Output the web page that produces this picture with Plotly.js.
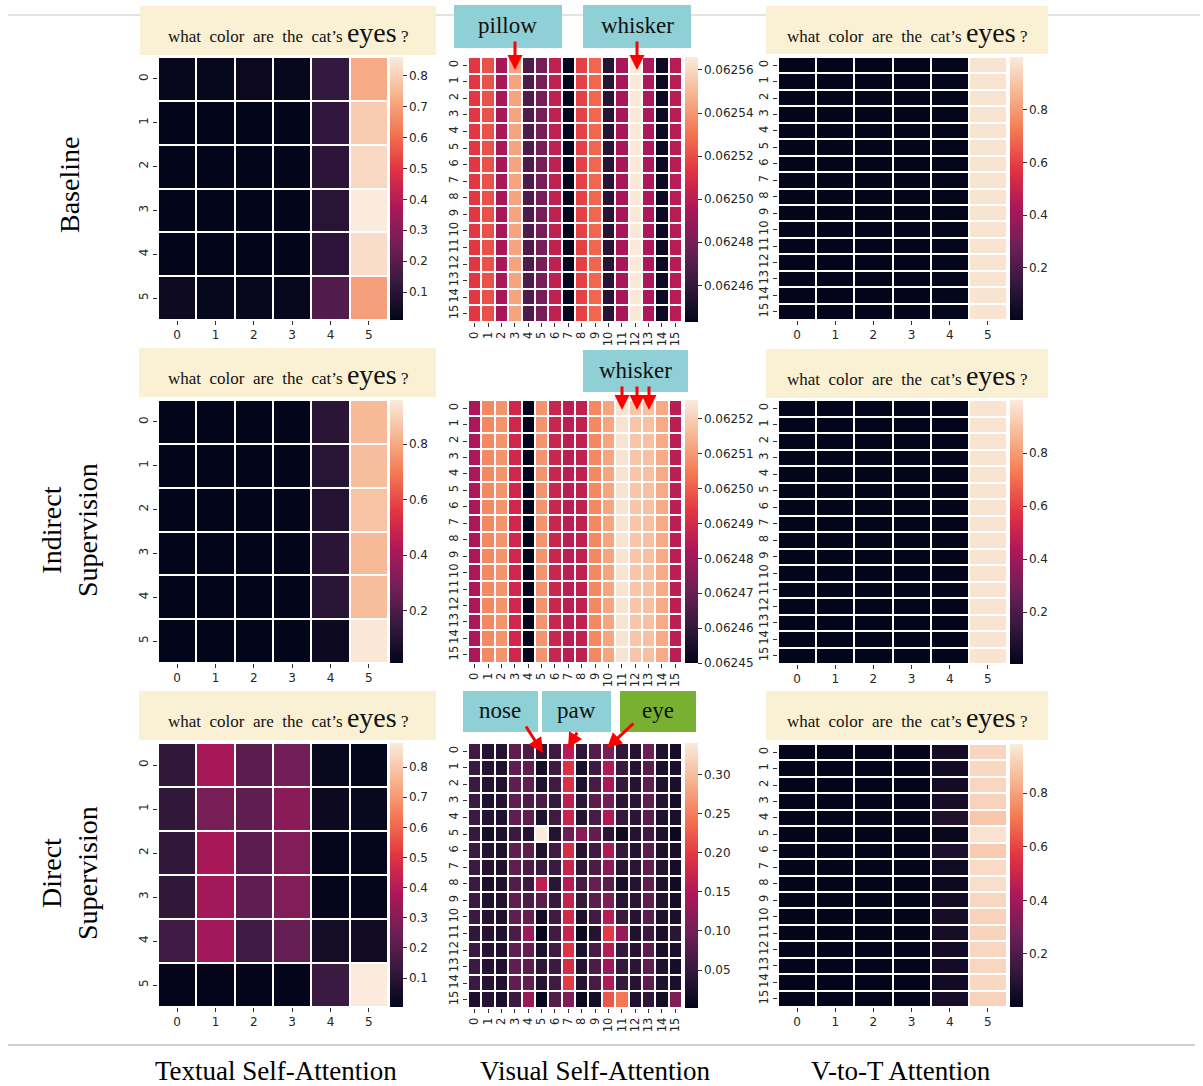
<!DOCTYPE html>
<html>
<head>
<meta charset="utf-8">
<script src="https://cdn.plot.ly/plotly-3.0.1.min.js"></script>
<style>html,body{margin:0;padding:0;background:#fff;}#chart{width:1203px;height:1086px;}</style>
</head>
<body>
<div id="chart"></div>
<script>
// ---------------- DATA ----------------
const textTokens = ['0','1','2','3','4','5'];
const patchTokens = ['0','1','2','3','4','5','6','7','8','9','10','11','12','13','14','15'];
const rowLabels = ['Baseline', 'Indirect<br>Supervision', 'Direct<br>Supervision'];
const colLabels = ['Textual Self-Attention', 'Visual Self-Attention', 'V-to-T Attention'];
const questionWords = ['what', 'color', 'are', 'the', 'cat\u2019s'];
const questionKey = 'eyes';

// Baseline
const textBaseline = [
  [0.02,0.02,0.03,0.02,0.13,0.72],
  [0.01,0.01,0.01,0.01,0.12,0.79],
  [0.01,0.01,0.01,0.01,0.11,0.82],
  [0.01,0.01,0.01,0.01,0.10,0.86],
  [0.01,0.01,0.01,0.01,0.11,0.83],
  [0.04,0.02,0.02,0.02,0.19,0.70]
];
const visBaseline = [
  [0.062514,0.062521,0.062495,0.062544,0.062468,0.062480,0.062502,0.062444,0.062517,0.062527,0.062456,0.062495,0.062565,0.062496,0.062447,0.062499],
  [0.062514,0.062521,0.062495,0.062544,0.062468,0.062480,0.062502,0.062444,0.062517,0.062527,0.062456,0.062495,0.062565,0.062496,0.062447,0.062499],
  [0.062514,0.062521,0.062495,0.062544,0.062468,0.062480,0.062502,0.062444,0.062517,0.062527,0.062456,0.062495,0.062565,0.062496,0.062447,0.062499],
  [0.062514,0.062521,0.062495,0.062544,0.062468,0.062480,0.062502,0.062444,0.062517,0.062527,0.062456,0.062495,0.062565,0.062496,0.062447,0.062499],
  [0.062514,0.062521,0.062495,0.062544,0.062468,0.062480,0.062502,0.062444,0.062517,0.062527,0.062456,0.062495,0.062565,0.062496,0.062447,0.062499],
  [0.062514,0.062521,0.062495,0.062544,0.062468,0.062480,0.062502,0.062444,0.062517,0.062527,0.062456,0.062495,0.062565,0.062496,0.062447,0.062499],
  [0.062514,0.062521,0.062495,0.062544,0.062468,0.062480,0.062502,0.062444,0.062517,0.062527,0.062456,0.062495,0.062565,0.062496,0.062447,0.062499],
  [0.062514,0.062521,0.062495,0.062544,0.062468,0.062480,0.062502,0.062444,0.062517,0.062527,0.062456,0.062495,0.062565,0.062496,0.062447,0.062499],
  [0.062514,0.062521,0.062495,0.062544,0.062468,0.062480,0.062502,0.062444,0.062517,0.062527,0.062456,0.062495,0.062565,0.062496,0.062447,0.062499],
  [0.062514,0.062521,0.062495,0.062544,0.062468,0.062480,0.062502,0.062444,0.062517,0.062527,0.062456,0.062495,0.062565,0.062496,0.062447,0.062499],
  [0.062514,0.062521,0.062495,0.062544,0.062468,0.062480,0.062502,0.062444,0.062517,0.062527,0.062456,0.062495,0.062565,0.062496,0.062447,0.062499],
  [0.062514,0.062521,0.062495,0.062544,0.062468,0.062480,0.062502,0.062444,0.062517,0.062527,0.062456,0.062495,0.062565,0.062496,0.062447,0.062499],
  [0.062514,0.062521,0.062495,0.062544,0.062468,0.062480,0.062502,0.062444,0.062517,0.062527,0.062456,0.062495,0.062565,0.062496,0.062447,0.062499],
  [0.062514,0.062521,0.062495,0.062544,0.062468,0.062480,0.062502,0.062444,0.062517,0.062527,0.062456,0.062495,0.062565,0.062496,0.062447,0.062499],
  [0.062514,0.062521,0.062495,0.062544,0.062468,0.062480,0.062502,0.062444,0.062517,0.062527,0.062456,0.062495,0.062565,0.062496,0.062447,0.062499],
  [0.062514,0.062521,0.062495,0.062544,0.062468,0.062480,0.062502,0.062444,0.062517,0.062527,0.062456,0.062495,0.062565,0.062496,0.062447,0.062499]
];
const v2tBaseline = [
  [0.004,0.004,0.004,0.004,0.006,0.978],[0.004,0.004,0.004,0.004,0.006,0.978],
  [0.004,0.004,0.004,0.004,0.006,0.978],[0.004,0.004,0.004,0.004,0.006,0.978],
  [0.004,0.004,0.004,0.004,0.006,0.978],[0.004,0.004,0.004,0.004,0.006,0.978],
  [0.004,0.004,0.004,0.004,0.006,0.978],[0.004,0.004,0.004,0.004,0.006,0.978],
  [0.004,0.004,0.004,0.004,0.006,0.978],[0.004,0.004,0.004,0.004,0.006,0.978],
  [0.004,0.004,0.004,0.004,0.006,0.978],[0.004,0.004,0.004,0.004,0.006,0.978],
  [0.004,0.004,0.004,0.004,0.006,0.978],[0.004,0.004,0.004,0.004,0.006,0.978],
  [0.004,0.004,0.004,0.004,0.006,0.978],[0.004,0.004,0.004,0.004,0.006,0.978]
];

// Indirect supervision
const textIndirect = [
  [0.01,0.01,0.01,0.01,0.12,0.84],
  [0.01,0.01,0.01,0.01,0.11,0.85],
  [0.01,0.01,0.01,0.01,0.10,0.86],
  [0.01,0.01,0.01,0.01,0.12,0.84],
  [0.01,0.01,0.01,0.01,0.11,0.85],
  [0.01,0.01,0.01,0.01,0.04,0.95]
];
const visIndirect = [
  [0.062482,0.062507,0.062509,0.062489,0.062450,0.062509,0.062488,0.062485,0.062486,0.062507,0.062512,0.062524,0.062518,0.062517,0.062513,0.062485],
  [0.062482,0.062507,0.062509,0.062489,0.062450,0.062509,0.062488,0.062485,0.062486,0.062507,0.062512,0.062524,0.062518,0.062517,0.062513,0.062485],
  [0.062482,0.062507,0.062509,0.062489,0.062450,0.062509,0.062488,0.062485,0.062486,0.062507,0.062512,0.062524,0.062518,0.062517,0.062513,0.062485],
  [0.062482,0.062507,0.062509,0.062489,0.062450,0.062509,0.062488,0.062485,0.062486,0.062507,0.062512,0.062524,0.062518,0.062517,0.062513,0.062485],
  [0.062482,0.062507,0.062509,0.062489,0.062450,0.062509,0.062488,0.062485,0.062486,0.062507,0.062512,0.062524,0.062518,0.062517,0.062513,0.062485],
  [0.062482,0.062507,0.062509,0.062489,0.062450,0.062509,0.062488,0.062485,0.062486,0.062507,0.062512,0.062524,0.062518,0.062517,0.062513,0.062485],
  [0.062482,0.062507,0.062509,0.062489,0.062450,0.062509,0.062488,0.062485,0.062486,0.062507,0.062512,0.062524,0.062518,0.062517,0.062513,0.062485],
  [0.062482,0.062507,0.062509,0.062489,0.062450,0.062509,0.062488,0.062485,0.062486,0.062507,0.062512,0.062524,0.062518,0.062517,0.062513,0.062485],
  [0.062482,0.062507,0.062509,0.062489,0.062450,0.062509,0.062488,0.062485,0.062486,0.062507,0.062512,0.062524,0.062518,0.062517,0.062513,0.062485],
  [0.062482,0.062507,0.062509,0.062489,0.062450,0.062509,0.062488,0.062485,0.062486,0.062507,0.062512,0.062524,0.062518,0.062517,0.062513,0.062485],
  [0.062482,0.062507,0.062509,0.062489,0.062450,0.062509,0.062488,0.062485,0.062486,0.062507,0.062512,0.062524,0.062518,0.062517,0.062513,0.062485],
  [0.062482,0.062507,0.062509,0.062489,0.062450,0.062509,0.062488,0.062485,0.062486,0.062507,0.062512,0.062524,0.062518,0.062517,0.062513,0.062485],
  [0.062482,0.062507,0.062509,0.062489,0.062450,0.062509,0.062488,0.062485,0.062486,0.062507,0.062512,0.062524,0.062518,0.062517,0.062513,0.062485],
  [0.062482,0.062507,0.062509,0.062489,0.062450,0.062509,0.062488,0.062485,0.062486,0.062507,0.062512,0.062524,0.062518,0.062517,0.062513,0.062485],
  [0.062482,0.062507,0.062509,0.062489,0.062450,0.062509,0.062488,0.062485,0.062486,0.062507,0.062512,0.062524,0.062518,0.062517,0.062513,0.062485],
  [0.062482,0.062507,0.062509,0.062489,0.062450,0.062509,0.062488,0.062485,0.062486,0.062507,0.062512,0.062524,0.062518,0.062517,0.062513,0.062485]
];
const v2tIndirect = [
  [0.004,0.004,0.004,0.004,0.006,0.978],[0.004,0.004,0.004,0.004,0.006,0.978],
  [0.004,0.004,0.004,0.004,0.006,0.978],[0.004,0.004,0.004,0.004,0.006,0.978],
  [0.004,0.004,0.004,0.004,0.006,0.978],[0.004,0.004,0.004,0.004,0.006,0.978],
  [0.004,0.004,0.004,0.004,0.006,0.978],[0.004,0.004,0.004,0.004,0.006,0.978],
  [0.004,0.004,0.004,0.004,0.006,0.978],[0.004,0.004,0.004,0.004,0.006,0.978],
  [0.004,0.004,0.004,0.004,0.006,0.978],[0.004,0.004,0.004,0.004,0.006,0.978],
  [0.004,0.004,0.004,0.004,0.006,0.978],[0.004,0.004,0.004,0.004,0.006,0.978],
  [0.004,0.004,0.004,0.004,0.006,0.978],[0.004,0.004,0.004,0.004,0.006,0.978]
];

// Direct supervision
const textDirect = [
  [0.12,0.37,0.21,0.26,0.02,0.01],
  [0.12,0.27,0.22,0.31,0.03,0.02],
  [0.12,0.37,0.21,0.29,0.01,0.01],
  [0.12,0.36,0.22,0.29,0.01,0.01],
  [0.15,0.36,0.15,0.23,0.05,0.04],
  [0.006,0.006,0.006,0.006,0.14,0.88]
];
const visDirect = [
  [0.06,0.035,0.035,0.085,0.07,0.045,0.06,0.155,0.045,0.075,0.105,0.045,0.035,0.095,0.03,0.02],
  [0.055,0.035,0.03,0.085,0.085,0.02,0.06,0.19,0.025,0.06,0.15,0.055,0.035,0.08,0.025,0.025],
  [0.055,0.035,0.03,0.085,0.085,0.03,0.06,0.19,0.03,0.065,0.145,0.05,0.035,0.085,0.03,0.025],
  [0.055,0.03,0.035,0.085,0.07,0.07,0.05,0.16,0.045,0.08,0.1,0.04,0.04,0.085,0.035,0.02],
  [0.055,0.035,0.03,0.085,0.085,0.03,0.06,0.17,0.035,0.065,0.15,0.05,0.04,0.08,0.03,0.025],
  [0.05,0.02,0.03,0.055,0.035,0.34,0.035,0.095,0.12,0.085,0.04,0.015,0.035,0.06,0.03,0.01],
  [0.055,0.035,0.03,0.085,0.085,0.03,0.06,0.185,0.035,0.06,0.15,0.05,0.035,0.08,0.03,0.025],
  [0.055,0.035,0.03,0.085,0.07,0.055,0.055,0.17,0.045,0.07,0.12,0.04,0.04,0.085,0.035,0.02],
  [0.055,0.025,0.03,0.075,0.055,0.16,0.04,0.155,0.065,0.09,0.08,0.025,0.035,0.085,0.03,0.015],
  [0.055,0.03,0.035,0.085,0.07,0.08,0.05,0.165,0.05,0.08,0.11,0.04,0.04,0.085,0.035,0.02],
  [0.055,0.035,0.03,0.085,0.09,0.02,0.06,0.18,0.03,0.06,0.155,0.055,0.035,0.08,0.03,0.025],
  [0.045,0.035,0.03,0.07,0.135,0.005,0.06,0.17,0.01,0.035,0.2,0.13,0.03,0.055,0.025,0.04],
  [0.055,0.035,0.03,0.085,0.09,0.03,0.06,0.195,0.03,0.065,0.155,0.05,0.035,0.08,0.025,0.025],
  [0.055,0.035,0.03,0.085,0.08,0.045,0.055,0.185,0.035,0.07,0.135,0.05,0.04,0.085,0.03,0.02],
  [0.055,0.035,0.03,0.085,0.085,0.035,0.06,0.2,0.035,0.065,0.15,0.05,0.035,0.08,0.03,0.025],
  [0.025,0.035,0.025,0.055,0.13,0.005,0.075,0.11,0.01,0.02,0.22,0.245,0.03,0.045,0.02,0.11]
];
const v2tDirect = [
  [0.004,0.004,0.004,0.004,0.05,0.93],
  [0.004,0.004,0.004,0.004,0.045,0.935],
  [0.004,0.004,0.004,0.004,0.05,0.93],
  [0.004,0.004,0.004,0.004,0.06,0.92],
  [0.004,0.004,0.004,0.004,0.085,0.89],
  [0.004,0.004,0.004,0.004,0.02,0.96],
  [0.004,0.004,0.004,0.004,0.075,0.90],
  [0.004,0.004,0.004,0.004,0.04,0.94],
  [0.004,0.004,0.004,0.004,0.03,0.95],
  [0.004,0.004,0.004,0.004,0.05,0.93],
  [0.004,0.004,0.004,0.004,0.06,0.92],
  [0.004,0.004,0.004,0.004,0.055,0.925],
  [0.004,0.004,0.004,0.004,0.05,0.93],
  [0.004,0.004,0.004,0.004,0.05,0.93],
  [0.004,0.004,0.004,0.004,0.045,0.935],
  [0.004,0.004,0.004,0.004,0.06,0.92]
];

// colorbar tick labels
const cbTicksText8 = [0.1,0.2,0.3,0.4,0.5,0.6,0.7,0.8];
const cbTicksText4 = [0.2,0.4,0.6,0.8];
const cbTicksVisBase = [0.06246,0.06248,0.06250,0.06252,0.06254,0.06256];
const cbTextVisBase = ['0.06246','0.06248','0.06250','0.06252','0.06254','0.06256'];
const cbTicksVisInd = [0.06245,0.06246,0.06247,0.06248,0.06249,0.06250,0.06251,0.06252];
const cbTextVisInd = ['0.06245','0.06246','0.06247','0.06248','0.06249','0.06250','0.06251','0.06252'];
const cbTicksVisDir = [0.05,0.10,0.15,0.20,0.25,0.30];
const cbTextVisDir = ['0.05','0.10','0.15','0.20','0.25','0.30'];

// ---------------- STYLE / LAYOUT ----------------
const W = 1203, H = 1086;
const fx = p => p / W;
const fy = p => 1 - p / H;
const rocket = [[0,'#03051a'],[0.143,'#35193e'],[0.286,'#701f57'],[0.429,'#ad1759'],
                [0.571,'#e13342'],[0.714,'#f37651'],[0.857,'#f6b48f'],[1,'#faebdd']];
const tickFont = {family:'DejaVu Sans, sans-serif', size:12, color:'#262626'};
const tickFontSmall = {family:'DejaVu Sans, sans-serif', size:11.5, color:'#262626'};
const serif = 'Liberation Serif, Times New Roman, serif';

const panels = [
  {z:textBaseline, x:[158,388], y:[57,320], cb:390, zr:[0.01,0.86], tv:cbTicksText8, mid:false},
  {z:visBaseline,  x:[468,682], y:[57,322], cb:685, zr:[0.062443,0.062566], tv:cbTicksVisBase, tt:cbTextVisBase, mid:true},
  {z:v2tBaseline,  x:[778,1007], y:[57,320], cb:1010, zr:[0.002,1.0], tv:cbTicksText4, mid:false},
  {z:textIndirect, x:[158,388], y:[400,663], cb:390, zr:[0.01,0.96], tv:cbTicksText4, mid:false},
  {z:visIndirect,  x:[468,682], y:[400,663], cb:685, zr:[0.06245,0.0625254], tv:cbTicksVisInd, tt:cbTextVisInd, mid:true},
  {z:v2tIndirect,  x:[778,1007], y:[400,664], cb:1010, zr:[0.004,1.0], tv:cbTicksText4, mid:false},
  {z:textDirect,   x:[158,388], y:[743,1007], cb:390, zr:[0.004,0.88], tv:cbTicksText8, mid:false},
  {z:visDirect,    x:[468,682], y:[743,1008], cb:685, zr:[0.0015,0.34], tv:cbTicksVisDir, tt:cbTextVisDir, mid:true},
  {z:v2tDirect,    x:[778,1007], y:[744,1007], cb:1010, zr:[0.002,0.983], tv:cbTicksText4, mid:false}
];

const data = [];
const layout = {
  width:W, height:H, margin:{l:0,r:0,t:0,b:0},
  paper_bgcolor:'#ffffff', plot_bgcolor:'#ffffff', showlegend:false,
  shapes:[], annotations:[]
};

panels.forEach((p, i) => {
  const n = i + 1;
  const xs = p.z[0].length === 16 ? patchTokens : textTokens;
  const ys = p.z.length === 16 ? patchTokens : textTokens;
  const xk = n === 1 ? 'xaxis' : 'xaxis' + n;
  const yk = n === 1 ? 'yaxis' : 'yaxis' + n;
  const xr = n === 1 ? 'x' : 'x' + n;
  const yr = n === 1 ? 'y' : 'y' + n;
  data.push({
    type:'heatmap', z:p.z, x:xs.map(Number), y:ys.map(Number), xaxis:xr, yaxis:yr,
    colorscale:rocket, zmin:p.zr[0], zmax:p.zr[1], xgap:2, ygap:2,
    hoverinfo:'skip',
    colorbar:{
      x:fx(p.cb), xanchor:'left', xref:'paper', y:fy(p.y[0]), yanchor:'top', yref:'paper',
      len:(p.y[1]-p.y[0])/H, lenmode:'fraction', thickness:13, thicknessmode:'pixels',
      xpad:0, ypad:0, outlinewidth:0, ticks:'outside', ticklen:4, tickwidth:1, tickcolor:'#333',
      tickfont:tickFont, tickvals:p.tv, ticktext:p.tt ? p.tt : p.tv.map(v => String(v))
    }
  });
  layout[xk] = {
    domain:[fx(p.x[0]), fx(p.x[1])], anchor:yr, range:[-0.5, xs.length-0.5],
    tickvals:xs.map(Number), ticktext:xs, ticks:'outside', ticklen:4, tickwidth:1, tickcolor:'#333',
    showgrid:false, zeroline:false, showline:false, tickfont: xs.length === 16 ? tickFontSmall : tickFont,
    tickangle: p.mid ? -90 : 0, fixedrange:true
  };
  layout[yk] = {
    domain:[fy(p.y[1]), fy(p.y[0])], anchor:xr, range:[ys.length-0.5, -0.5],
    tickvals:ys.map(Number), ticktext:ys, ticks:'outside', ticklen:4, tickwidth:1, tickcolor:'#333',
    showgrid:false, zeroline:false, showline:false, tickfont: ys.length === 16 ? tickFontSmall : tickFont,
    tickangle:-90, fixedrange:true
  };
});

// horizontal rules
layout.shapes.push({type:'line', xref:'paper', yref:'paper', x0:fx(8), x1:fx(1200), y0:fy(15), y1:fy(15), line:{color:'#c8c8c8', width:1}, layer:'below'});
layout.shapes.push({type:'line', xref:'paper', yref:'paper', x0:fx(8), x1:fx(1195), y0:fy(1045), y1:fy(1045), line:{color:'#c0c0c0', width:1.5}, layer:'below'});

// question boxes
const qBoxes = [
  {x:[140,436], y:[6,55]}, {x:[766,1048], y:[6,54]},
  {x:[139,436], y:[348,397]}, {x:[766,1048], y:[349,398]},
  {x:[139,436], y:[691,740]}, {x:[766,1048], y:[691,740]}
];
const gap = '\u00a0\u00a0';
const qText = questionWords.join(gap) + '\u00a0<span style="font-size:28px">' + questionKey + '</span>\u00a0?';
qBoxes.forEach(b => {
  layout.shapes.push({type:'rect', xref:'paper', yref:'paper', x0:fx(b.x[0]), x1:fx(b.x[1]), y0:fy(b.y[1]), y1:fy(b.y[0]),
    fillcolor:'#faf0d4', line:{width:0}, layer:'above'});
  layout.annotations.push({xref:'paper', yref:'paper', x:fx((b.x[0]+b.x[1])/2), y:fy((b.y[0]+b.y[1])/2 + 2),
    xanchor:'center', yanchor:'middle', showarrow:false, text:qText, font:{family:serif, size:17, color:'#111'}});
});

// keyword boxes
const kBoxes = [
  {x:[454,562], y:[5,48], t:'pillow', c:'#8fcfd6'},
  {x:[583,691], y:[5,48], t:'whisker', c:'#8fcfd6'},
  {x:[583,688], y:[350,392], t:'whisker', c:'#8fcfd6'},
  {x:[463,538], y:[691,732], t:'nose', c:'#8fcfd6'},
  {x:[542,611], y:[691,732], t:'paw', c:'#8fcfd6'},
  {x:[620,696], y:[691,732], t:'eye', c:'#78b132'}
];
kBoxes.forEach(b => {
  layout.shapes.push({type:'rect', xref:'paper', yref:'paper', x0:fx(b.x[0]), x1:fx(b.x[1]), y0:fy(b.y[1]), y1:fy(b.y[0]),
    fillcolor:b.c, line:{width:0}, layer:'above'});
  layout.annotations.push({xref:'paper', yref:'paper', x:fx((b.x[0]+b.x[1])/2), y:fy((b.y[0]+b.y[1])/2 - 1),
    xanchor:'center', yanchor:'middle', showarrow:false, text:b.t, font:{family:serif, size:23, color:'#111'}});
});

// arrows (tip position, tail offset in px)
const arrows = [
  {x:515, y:70, ax:0, ay:-30}, {x:637, y:70, ax:0, ay:-30},
  {x:622, y:410, ax:0, ay:-25}, {x:637, y:410, ax:0, ay:-25}, {x:649, y:410, ax:0, ay:-25},
  {x:543, y:753, ax:-18, ay:-28}, {x:568, y:748, ax:10, ay:-17}, {x:607, y:748, ax:28, ay:-26}
];
arrows.forEach(a => {
  layout.annotations.push({xref:'paper', yref:'paper', x:fx(a.x), y:fy(a.y), ax:a.ax, ay:a.ay, text:'',
    showarrow:true, arrowhead:2, arrowsize:1, arrowwidth:3, arrowcolor:'#ff0000'});
});

// row labels
const rowY = [185, 530, 873];
rowLabels.forEach((t, i) => {
  layout.annotations.push({xref:'paper', yref:'paper', x:fx(69), y:fy(rowY[i]), xanchor:'center', yanchor:'middle',
    textangle:-90, showarrow:false, text:t, font:{family:serif, size:28, color:'#000'}});
});
// column labels
const colX = [276, 595, 901];
colLabels.forEach((t, i) => {
  layout.annotations.push({xref:'paper', yref:'paper', x:fx(colX[i]), y:fy(1071), xanchor:'center', yanchor:'middle',
    showarrow:false, text:t, font:{family:serif, size:27, color:'#000'}});
});

Plotly.newPlot('chart', data, layout, {displayModeBar:false, staticPlot:true});
</script>
</body>
</html>
